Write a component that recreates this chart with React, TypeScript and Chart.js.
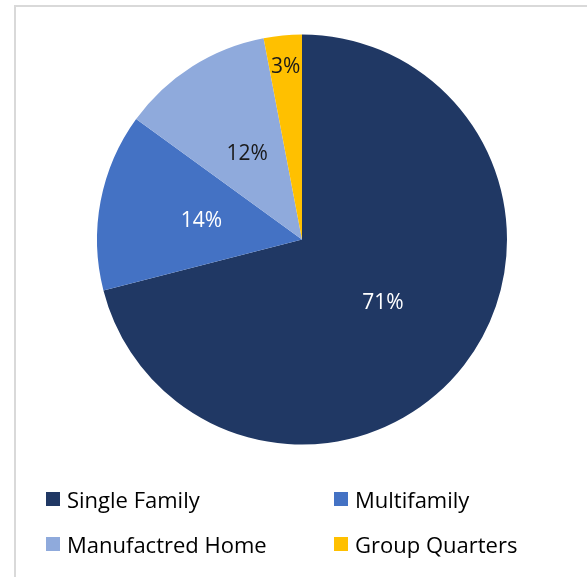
import React, { useEffect, useRef } from "react";
import { Chart, registerables } from "chart.js";

Chart.register(...registerables);

const categories = ["Single Family", "Multifamily", "Manufactred Home", "Group Quarters"];
const values = [71, 14, 12, 3];
const labels = ["71%", "14%", "12%", "3%"];
const colors = ["#203864", "#4472C4", "#8FAADC", "#FFC000"];
const labelColors = ["#ffffff", "#ffffff", "#1a1a1a", "#1a1a1a"];
const labelRadius = [0.5, 0.5, 0.5, 0.85];

const FONT = "'Open Sans', 'Noto Sans', sans-serif";

const labelPlugin = {
  id: "sliceLabels",
  afterDatasetsDraw(chart: any) {
    const ctx = chart.ctx;
    const meta = chart.getDatasetMeta(0);
    ctx.save();
    ctx.font = `21px ${FONT}`;
    ctx.textAlign = "center";
    ctx.textBaseline = "middle";
    meta.data.forEach((arc: any, i: number) => {
      const { x, y, startAngle, endAngle, outerRadius } = arc.getProps(
        ["x", "y", "startAngle", "endAngle", "outerRadius"],
        true
      );
      const mid = (startAngle + endAngle) / 2;
      const r = outerRadius * labelRadius[i];
      ctx.fillStyle = labelColors[i];
      ctx.fillText(labels[i], x + Math.cos(mid) * r, y + Math.sin(mid) * r + 1);
    });
    ctx.restore();
  },
};

export default function App() {
  const ref = useRef<HTMLCanvasElement | null>(null);
  useEffect(() => {
    if (!ref.current) return;
    const chart = new Chart(ref.current, {
      type: "pie",
      data: {
        labels: categories,
        datasets: [
          {
            data: values,
            backgroundColor: colors,
            borderColor: "#ffffff",
            borderWidth: 0,
          },
        ],
      },
      options: {
        animation: false,
        responsive: false,
        layout: { padding: { left: 97, right: 80, top: 34.5, bottom: 132.5 } },
        plugins: {
          legend: { display: false },
          tooltip: { enabled: false },
        },
      },
      plugins: [labelPlugin],
    });
    return () => chart.destroy();
  }, []);

  const legendItem = (i: number, left: number, top: number) => (
    <div
      key={i}
      style={{
        position: "absolute",
        left,
        top,
        display: "flex",
        alignItems: "center",
        fontFamily: FONT,
        fontSize: 22,
        color: "#000",
        whiteSpace: "nowrap",
        lineHeight: "26px",
      }}
    >
      <span
        style={{
          display: "inline-block",
          width: 14,
          height: 14,
          background: colors[i],
          marginRight: 7,
        }}
      />
      {categories[i]}
    </div>
  );

  return (
    <div
      style={{
        position: "fixed",
        left: 0,
        top: 0,
        width: 587,
        height: 577,
        background: "#ffffff",
        overflow: "hidden",
      }}
    >
      <div
        style={{
          position: "absolute",
          left: 14,
          top: 5,
          width: 600,
          height: 600,
          borderLeft: "2px solid #d9d9d9",
          borderTop: "2px solid #d9d9d9",
        }}
      />
      <canvas
        ref={ref}
        width={587}
        height={577}
        style={{ position: "absolute", left: 0, top: 0 }}
      />
      {legendItem(0, 46, 486)}
      {legendItem(1, 334, 486)}
      {legendItem(2, 46, 531)}
      {legendItem(3, 334, 531)}
    </div>
  );
}
